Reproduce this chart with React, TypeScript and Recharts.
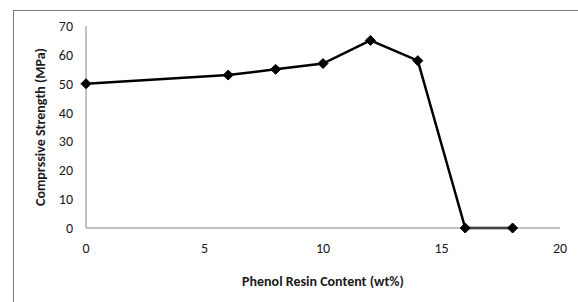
import React from "react";
import { LineChart, Line, XAxis, YAxis } from "recharts";

const resinContent = [0, 6, 8, 10, 12, 14, 16, 18];
const strength = [50, 53, 55, 57, 65, 58, 0, 0];
const xTicks = [0, 5, 10, 15, 20];
const yTicks = [0, 10, 20, 30, 40, 50, 60, 70];

const data = resinContent.map((x, i) => ({ x, y: strength[i] }));

const FONT = "Carlito, Calibri, 'Open Sans', sans-serif";

const Diamond = (props: any) => {
  const { cx, cy } = props;
  if (cx == null || cy == null) return null;
  const r = 5;
  return (
    <polygon
      points={`${cx},${cy - r} ${cx + r},${cy} ${cx},${cy + r} ${cx - r},${cy}`}
      fill="#000"
      stroke="#000"
    />
  );
};

export default function App() {
  return (
    <div style={{ position: "absolute", left: 0, top: 0, width: 578, height: 302, overflow: "hidden", background: "#fff" }}>
      <div
        style={{
          position: "absolute",
          left: 13,
          top: 10,
          width: 700,
          height: 400,
          border: "1.5px solid #7f7f7f",
        }}
      />
      <div style={{ position: "absolute", left: 0, top: 0 }}>
        <LineChart
          width={578}
          height={302}
          data={data}
          margin={{ top: 26, right: 18, bottom: 14, left: 12 }}
        >
          <XAxis
            dataKey="x"
            type="number"
            domain={[0, 20]}
            ticks={xTicks}
            tickLine={false}
            tickMargin={9}
            height={60}
            axisLine={{ stroke: "#868686" }}
            tick={{ fill: "#1a1a1a", fontSize: 14, fontFamily: FONT }}
            label={{
              value: "Phenol Resin Content (wt%)",
              position: "insideBottom",
              offset: 2,
              style: { fontWeight: "bold", fontSize: 14, fill: "#1a1a1a", fontFamily: FONT },
            }}
          />
          <YAxis
            type="number"
            domain={[0, 70]}
            ticks={yTicks}
            tickLine={false}
            tickMargin={7}
            width={74}
            axisLine={{ stroke: "#868686" }}
            tick={{ fill: "#1a1a1a", fontSize: 14, fontFamily: FONT }}
            label={{
              value: "Comprssive Strength (MPa)",
              angle: -90,
              position: "insideLeft",
              offset: 28,
              style: { textAnchor: "middle", fontWeight: "bold", fontSize: 14, fill: "#1a1a1a", fontFamily: FONT },
            }}
          />
          <Line
            dataKey="y"
            stroke="#000"
            strokeWidth={2.5}
            dot={<Diamond />}
            activeDot={false}
            isAnimationActive={false}
          />
        </LineChart>
      </div>
    </div>
  );
}
